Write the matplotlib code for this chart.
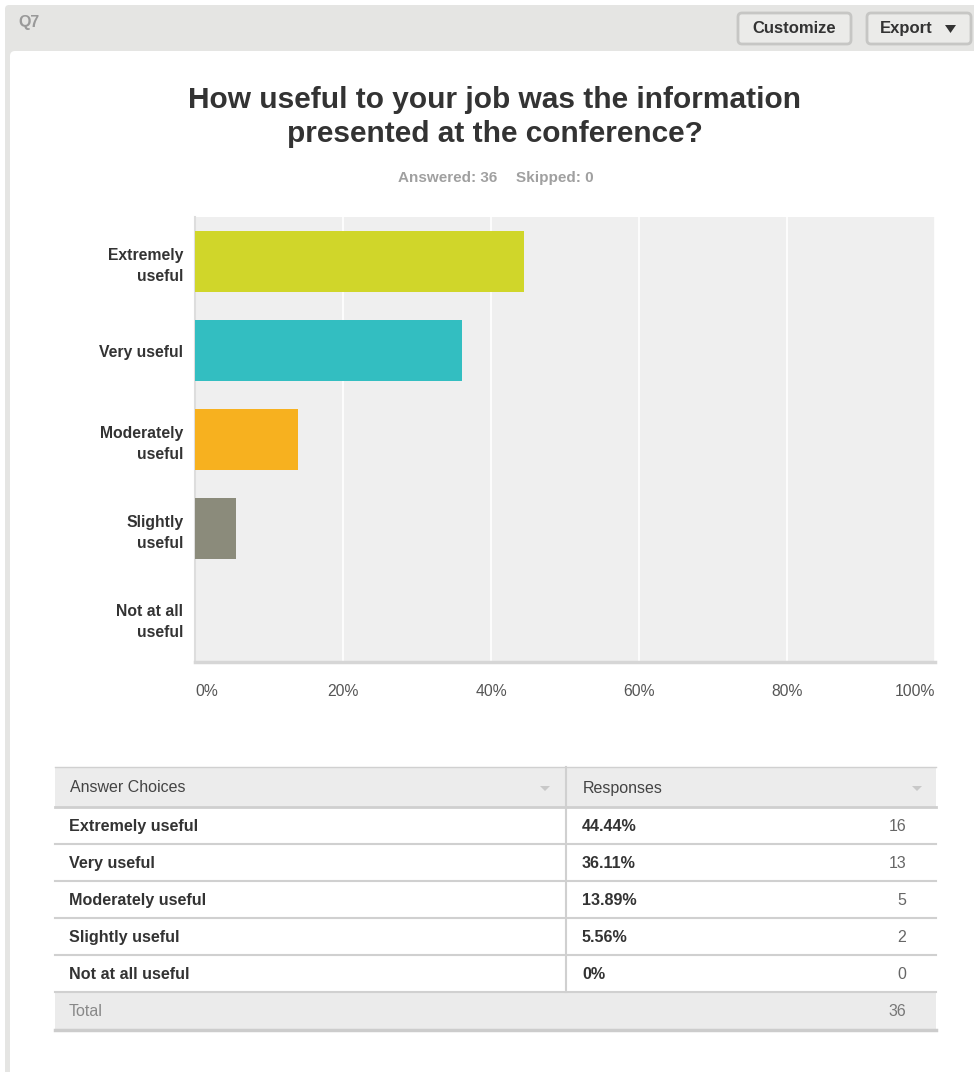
import matplotlib
matplotlib.use("Agg")
import matplotlib.pyplot as plt
from matplotlib.patches import FancyBboxPatch, Rectangle, Polygon

plt.rcParams['font.family'] = ['Liberation Sans', 'DejaVu Sans']

# ---- data ----
categories = ["Extremely\nuseful", "Very useful", "Moderately\nuseful", "Slightly\nuseful", "Not at all\nuseful"]
table_labels = ["Extremely useful", "Very useful", "Moderately useful", "Slightly useful", "Not at all useful"]
percents = [44.44, 36.11, 13.89, 5.56, 0.0]
pct_labels = ["44.44%", "36.11%", "13.89%", "5.56%", "0%"]
counts = [16, 13, 5, 2, 0]
total = 36
skipped = 0
bar_colors = ["#d0d62a", "#33bec1", "#f7b11f", "#8b8b7b", "#cccccc"]
xticks = [0, 20, 40, 60, 80, 100]
xtick_labels = ["0%", "20%", "40%", "60%", "80%", "100%"]

W, H = 974, 1072
fig = plt.figure(figsize=(W / 100, H / 100), dpi=100)
fig.patch.set_facecolor("white")

# overlay axes in pixel coordinates
ov = fig.add_axes([0, 0, 1, 1])
ov.set_xlim(0, W)
ov.set_ylim(H, 0)
ov.axis("off")

# outer grey panel
ov.add_patch(FancyBboxPatch((5, 5), W, H, boxstyle="round,pad=0,rounding_size=4",
                            fc="#e5e5e3", ec="none", zorder=0))
# white content panel
ov.add_patch(FancyBboxPatch((10, 51), W, H, boxstyle="round,pad=0,rounding_size=5",
                            fc="white", ec="none", zorder=1))

ov.text(18, 22, "Q7", fontsize=11.5, fontweight="bold", color="#999999", va="center", ha="left", zorder=2)

# buttons
for (x0, x1, label) in [(738, 851, "Customize"), (867, 971, "Export")]:
    ov.add_patch(FancyBboxPatch((x0, 13), x1 - x0, 31, boxstyle="round,pad=0,rounding_size=4",
                                fc="#ebebe9", ec="#c6c6c4", lw=2, zorder=2))
ov.text(794.5, 28.5, "Customize", fontsize=12, fontweight="bold", color="#333333", ha="center", va="center", zorder=3)
ov.text(880, 28.5, "Export", fontsize=12, fontweight="bold", color="#333333", ha="left", va="center", zorder=3)
ov.add_patch(Polygon([[945, 25], [956, 25], [950.5, 33]], closed=True, fc="#333333", ec="none", zorder=3))

# title
ov.text(495, 117, "How useful to your job was the information\npresented at the conference?",
        fontsize=21.5, fontweight="bold", color="#333333", ha="center", va="center",
        linespacing=1.3, zorder=2)
ov.text(497, 178, f"Answered: {total}", fontsize=11, fontweight="bold",
        color="#a0a0a0", ha="right", va="center", zorder=2)
ov.text(516, 178, f"Skipped: {skipped}", fontsize=11, fontweight="bold",
        color="#a0a0a0", ha="left", va="center", zorder=2)

# ---- chart axes ----
ax_l, ax_r, ax_t, ax_b = 195, 935, 217, 662
ax = fig.add_axes([ax_l / W, 1 - ax_b / H, (ax_r - ax_l) / W, (ax_b - ax_t) / H])
ax.set_facecolor("#efefef")
ax.set_xlim(0, 100)
ypos = list(range(len(categories)))
ax.set_ylim(len(categories) - 0.5, -0.5)
ax.barh(ypos, percents, height=0.675, color=bar_colors, zorder=3)
ax.set_xticks(xticks)
ax.xaxis.grid(True, color="white", lw=1.2, zorder=1)
ax.set_axisbelow(True)
ax.tick_params(axis="x", length=0, labelbottom=False)
ax.tick_params(axis="y", length=0, pad=8.5)
ax.set_yticks(ypos)
ax.set_yticklabels(categories, fontsize=11.3, fontweight="bold", color="#333333",
                   linespacing=1.5)
for lbl in ax.get_yticklabels():
    lbl.set_horizontalalignment("right")
for s in ["top", "right"]:
    ax.spines[s].set_visible(False)
ax.spines["left"].set_color("#dddddd")
ax.spines["left"].set_linewidth(1.5)
ax.spines["bottom"].set_color("#d6d6d6")
ax.spines["bottom"].set_linewidth(2.5)

# x tick labels in pixel space
for v, t in zip(xticks, xtick_labels):
    px = ax_l + (ax_r - ax_l) * v / 100
    ha = "center"
    if v == xticks[0]:
        ha = "left"
    elif v == xticks[-1]:
        ha = "right"
    ov.text(px, 691, t, fontsize=11.3, color="#555555", ha=ha, va="center", zorder=2)

# ---- table ----
tl, tr, div = 55, 936, 566
hdr_top, hdr_bot = 767, 807
row_h = 37
ov.add_patch(Rectangle((tl, hdr_top), tr - tl, hdr_bot - hdr_top, fc="#ececec", ec="none", zorder=2))
ov.plot([tl, tr], [hdr_top, hdr_top], color="#d0d0d0", lw=1, zorder=3)
ov.plot([tl, tr], [hdr_bot, hdr_bot], color="#cfcfcf", lw=2, zorder=3)
ov.text(70, 788, "Answer Choices", fontsize=11.5, color="#444444", ha="left", va="center", zorder=4)
ov.text(583, 788, "Responses", fontsize=11.5, color="#444444", ha="left", va="center", zorder=4)
for x in [545, 917]:
    ov.add_patch(Polygon([[x - 5, 786], [x + 5, 786], [x, 791]], closed=True, fc="#c8c8c8", ec="none", zorder=4))

y = hdr_bot
for lab, pl, c in zip(table_labels, pct_labels, counts):
    yc = y + row_h / 2 + 1
    ov.text(69, yc, lab, fontsize=11.6, fontweight="bold", color="#333333", ha="left", va="center", zorder=4)
    ov.text(582, yc, pl, fontsize=11.6, fontweight="bold", color="#333333", ha="left", va="center", zorder=4)
    ov.text(906, yc, str(c), fontsize=11.5, color="#666666", ha="right", va="center", zorder=4)
    y += row_h
    ov.plot([tl, tr], [y, y], color="#d0d0d0", lw=1.5, zorder=3)
ov.plot([div, div], [hdr_top, y], color="#d0d0d0", lw=1.5, zorder=3)

# total row
ov.add_patch(Rectangle((tl, y), tr - tl, row_h + 1, fc="#ebebeb", ec="none", zorder=2))
ov.text(69, y + row_h / 2 + 1, "Total", fontsize=11.5, color="#888888", ha="left", va="center", zorder=4)
ov.text(906, y + row_h / 2 + 1, str(total), fontsize=11.5, color="#777777", ha="right", va="center", zorder=4)
ov.plot([tl, tr], [y + row_h + 1, y + row_h + 1], color="#cccccc", lw=2.5, zorder=3)

fig.savefig("out.png", dpi=100)
